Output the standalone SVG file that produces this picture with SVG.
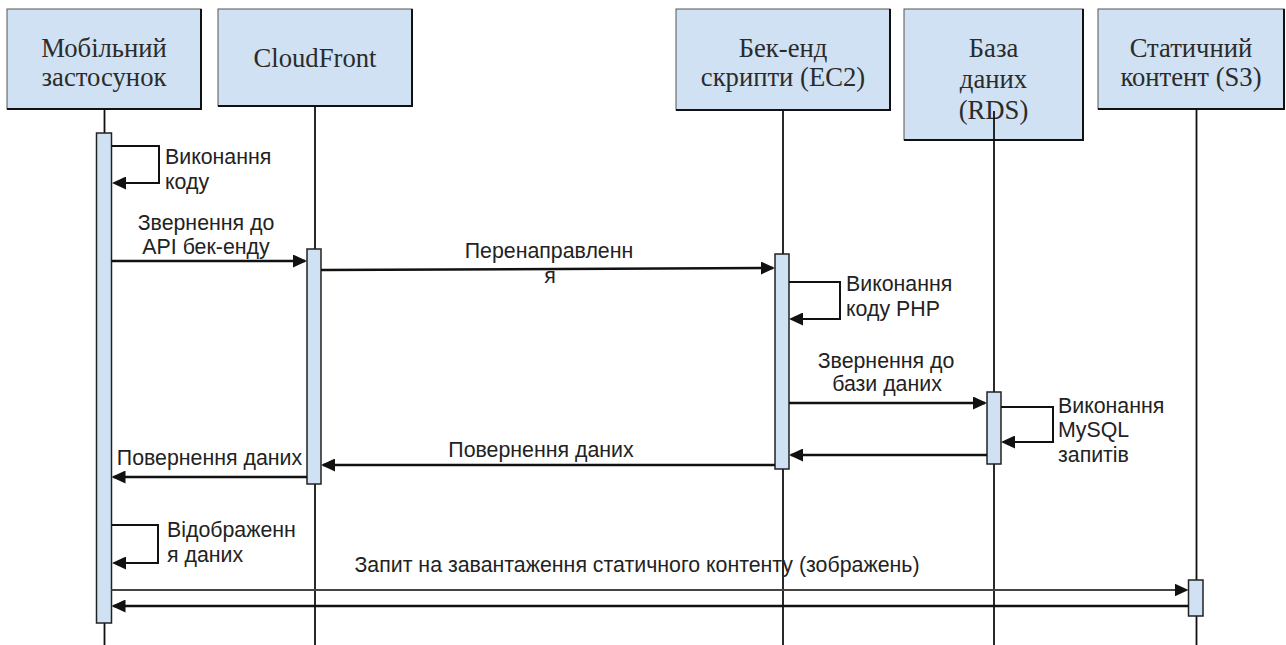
<svg xmlns="http://www.w3.org/2000/svg" width="1286" height="645" viewBox="0 0 1286 645">
<style>
.hdr{fill:#cfe1f3;stroke:#555;stroke-width:1}
.edge{fill:none;stroke:#111;stroke-width:2}
.ht{font-family:"Liberation Serif","Times New Roman",serif;font-size:26.67px;fill:#2b2b2b;text-anchor:middle}
.life{stroke:#111;stroke-width:1.8}
.bar{fill:#cfe1f3;stroke:#222;stroke-width:1.5}
.msg{fill:none;stroke:#111;stroke-width:2.5}
.req{fill:none;stroke:#444;stroke-width:2.2}
.loop{fill:none;stroke:#111;stroke-width:2}
.lt{font-family:"Liberation Sans",Arial,sans-serif;font-size:21.33px;fill:#222}
.mid{text-anchor:middle}
</style>
<defs>
<marker id="ah" markerUnits="userSpaceOnUse" markerWidth="14" markerHeight="13" refX="12" refY="6.5" orient="auto">
<path d="M0,0 L14,6.5 L0,13 z" fill="#111"/>
</marker>
</defs>
<rect width="1286" height="645" fill="#fff"/>

<g id="mobile">
<rect class="hdr" x="7" y="9" width="194" height="100"/>
<path class="edge" d="M201,9 V109 H7"/>
<text class="ht" x="104" y="57">Мобільний</text>
<text class="ht" x="104" y="86">застосунок</text>
</g>
<g id="cloudfront">
<rect class="hdr" x="218" y="9" width="194" height="97"/>
<path class="edge" d="M412,9 V106 H218"/>
<text class="ht" x="315" y="67">CloudFront</text>
</g>
<g id="backend">
<rect class="hdr" x="676" y="9" width="214" height="101"/>
<path class="edge" d="M890,9 V110 H676"/>
<text class="ht" x="783" y="57">Бек-енд</text>
<text class="ht" x="783" y="86">скрипти (EC2)</text>
</g>
<g id="database">
<rect class="hdr" x="904" y="9" width="179" height="131"/>
<path class="edge" d="M1083,9 V140 H904"/>
<text class="ht" x="993.5" y="57">База</text>
<text class="ht" x="993.5" y="88">даних</text>
<text class="ht" x="993.5" y="119">(RDS)</text>
</g>
<g id="s3">
<rect class="hdr" x="1098" y="9" width="186" height="100"/>
<path class="edge" d="M1284,9 V109 H1098"/>
<text class="ht" x="1191" y="57">Статичний</text>
<text class="ht" x="1191" y="86">контент (S3)</text>
</g>

<g id="lifelines">
<line class="life" x1="104.5" y1="109" x2="104.5" y2="645"/>
<line class="life" x1="315" y1="106" x2="315" y2="645"/>
<line class="life" x1="783" y1="110" x2="783" y2="645"/>
<line class="life" x1="994" y1="111" x2="994" y2="645"/>
<line class="life" x1="1196.5" y1="109" x2="1196.5" y2="645"/>
</g>

<g id="activations">
<rect class="bar" x="96.5" y="133" width="15" height="490"/>
<rect class="bar" x="307" y="249" width="14" height="235"/>
<rect class="bar" x="775" y="254" width="14" height="215"/>
<rect class="bar" x="987" y="392" width="14" height="72"/>
<rect class="bar" x="1188.5" y="580" width="14.5" height="36"/>
</g>

<g id="connectors">
<path class="loop" d="M111.5,146 H159 V183 H114" marker-end="url(#ah)"/>
<line class="msg" x1="111.5" y1="261" x2="305" y2="261" marker-end="url(#ah)"/>
<line class="msg" x1="321" y1="270" x2="773" y2="268" marker-end="url(#ah)"/>
<path class="loop" d="M789,282 H840 V319 H791" marker-end="url(#ah)"/>
<line class="msg" x1="789" y1="403" x2="985" y2="403" marker-end="url(#ah)"/>
<path class="loop" d="M1001,407 H1053 V442 H1003" marker-end="url(#ah)"/>
<line class="msg" x1="987" y1="455" x2="791" y2="455" marker-end="url(#ah)"/>
<line class="msg" x1="775" y1="465" x2="323" y2="465" marker-end="url(#ah)"/>
<line class="msg" x1="307" y1="477" x2="113.5" y2="477" marker-end="url(#ah)"/>
<path class="loop" d="M111.5,525 H158 V563 H114" marker-end="url(#ah)"/>
<line class="req" x1="111.5" y1="590" x2="1186.5" y2="590" marker-end="url(#ah)"/>
<line class="msg" x1="1188.5" y1="606" x2="113.5" y2="606" marker-end="url(#ah)"/>
</g>

<g id="labels">
<text class="lt" x="165" y="164">Виконання</text>
<text class="lt" x="165" y="189">коду</text>
<text class="lt mid" x="206" y="230">Звернення до</text>
<text class="lt mid" x="206" y="254">API бек-енду</text>
<text class="lt mid" x="549" y="258">Перенаправленн</text>
<text class="lt mid" x="550" y="283">я</text>
<text class="lt" x="846" y="291">Виконання</text>
<text class="lt" x="846" y="316">коду PHP</text>
<text class="lt mid" x="886" y="368">Звернення до</text>
<text class="lt mid" x="887" y="391">бази даних</text>
<text class="lt" x="1058" y="413">Виконання</text>
<text class="lt" x="1058" y="437">MySQL</text>
<text class="lt" x="1058" y="462">запитів</text>
<text class="lt mid" x="541" y="457">Повернення даних</text>
<text class="lt mid" x="209.5" y="465">Повернення даних</text>
<text class="lt" x="167" y="537">Відображенн</text>
<text class="lt" x="167" y="562">я даних</text>
<text class="lt mid" x="637" y="572">Запит на завантаження статичного контенту (зображень)</text>
</g>
</svg>
